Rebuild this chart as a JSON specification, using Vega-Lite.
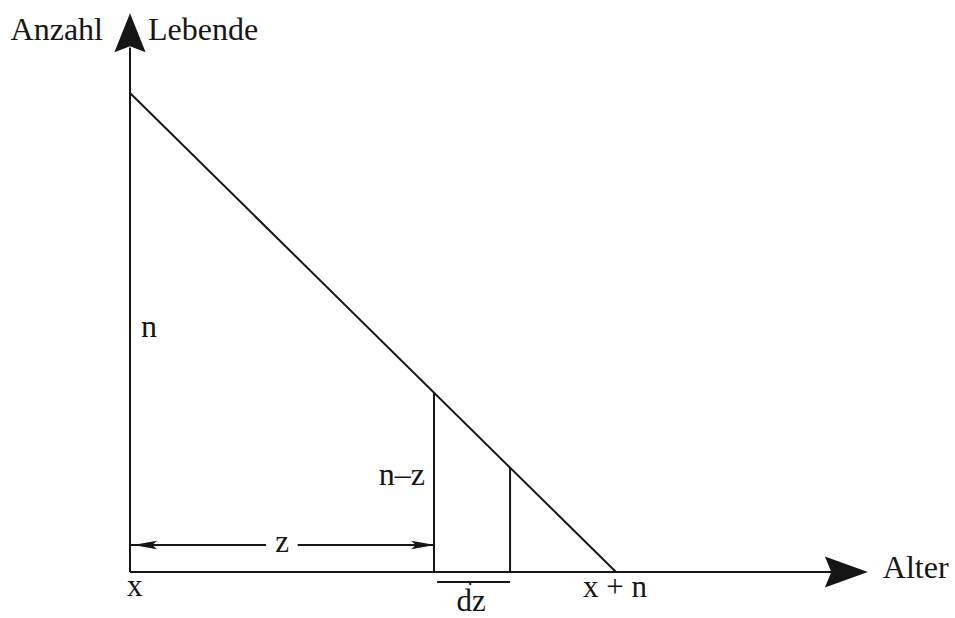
{
  "$schema": "https://vega.github.io/schema/vega-lite/v6.json",
  "width": 955,
  "height": 618,
  "autosize": {"type": "none"},
  "padding": 0,
  "background": "white",
  "config": {"view": {"stroke": null}},
  "datasets": {
    "segments": [
      {"part": "Lebende-Achse", "x": 0, "y": 0, "x2": 0, "y2": 10.95},
      {"part": "Alter-Achse", "x": 0, "y": 0, "x2": 14.5, "y2": 0},
      {"part": "Lebende", "x": 0, "y": 10, "x2": 10, "y2": 0},
      {"part": "n-z", "x": 6.255, "y": 0, "x2": 6.255, "y2": 3.745},
      {"part": "n-z-dz", "x": 7.82, "y": 0, "x2": 7.82, "y2": 2.18},
      {"part": "z links", "x": 0, "y": 0.564, "x2": 2.8, "y2": 0.564},
      {"part": "z rechts", "x": 3.45, "y": 0.564, "x2": 6.255, "y2": 0.564},
      {"part": "dz", "x": 6.32, "y": -0.21, "x2": 7.82, "y2": -0.21},
      {"part": "dz Mitte", "x": 7.0, "y": -0.21, "x2": 7.0, "y2": -0.27}
    ],
    "arrowUp": [{"x": 0, "y": 11.26}],
    "arrowRight": [{"x": 14.74, "y": 0}],
    "arrowSmallRight": [{"x": 6.03, "y": 0.564}],
    "arrowSmallLeft": [{"x": 0.31, "y": 0.564}],
    "labels": [
      {"label": "Anzahl", "x": -0.556, "y": 11.1, "align": "right"},
      {"label": "Lebende", "x": 0.37, "y": 11.1, "align": "left"},
      {"label": "Alter", "x": 15.49, "y": -0.13, "align": "left"},
      {"label": "x", "x": 0.1, "y": -0.5, "align": "center"},
      {"label": "x + n", "x": 9.98, "y": -0.52, "align": "center"},
      {"label": "n", "x": 0.226, "y": 4.9, "align": "left"},
      {"label": "n–z", "x": 6.07, "y": 1.81, "align": "right"},
      {"label": "z", "x": 3.13, "y": 0.41, "align": "center"},
      {"label": "dz", "x": 7.02, "y": -0.82, "align": "center"}
    ]
  },
  "layer": [
    {
      "data": {"name": "segments"},
      "mark": {"type": "rule", "stroke": "#161616", "strokeWidth": 2},
      "encoding": {
        "x": {"field": "x", "type": "quantitative", "scale": {"domain": [-2.675, 16.975], "nice": false, "zero": false}, "axis": null},
        "y": {"field": "y", "type": "quantitative", "scale": {"domain": [-0.96, 11.942], "nice": false, "zero": false}, "axis": null},
        "x2": {"field": "x2"},
        "y2": {"field": "y2"}
      }
    },
    {
      "data": {"name": "arrowUp"},
      "mark": {"type": "point", "filled": true, "color": "#161616", "opacity": 1, "size": 1521, "shape": "M0,-1L0.8,1L0,0.7L-0.8,1Z"},
      "encoding": {
        "x": {"field": "x", "type": "quantitative"},
        "y": {"field": "y", "type": "quantitative"}
      }
    },
    {
      "data": {"name": "arrowRight"},
      "mark": {"type": "point", "filled": true, "color": "#161616", "opacity": 1, "size": 1849, "shape": "M1,0L-1,-0.72L-0.7,0L-1,0.72Z"},
      "encoding": {
        "x": {"field": "x", "type": "quantitative"},
        "y": {"field": "y", "type": "quantitative"}
      }
    },
    {
      "data": {"name": "arrowSmallRight"},
      "mark": {"type": "point", "filled": true, "color": "#161616", "opacity": 1, "size": 576, "shape": "M1,0L-1,-0.35L-0.6,0L-1,0.35Z"},
      "encoding": {
        "x": {"field": "x", "type": "quantitative"},
        "y": {"field": "y", "type": "quantitative"}
      }
    },
    {
      "data": {"name": "arrowSmallLeft"},
      "mark": {"type": "point", "filled": true, "color": "#161616", "opacity": 1, "size": 576, "shape": "M-1,0L1,-0.35L0.6,0L1,0.35Z"},
      "encoding": {
        "x": {"field": "x", "type": "quantitative"},
        "y": {"field": "y", "type": "quantitative"}
      }
    },
    {
      "data": {"name": "labels"},
      "transform": [{"filter": "datum.align == 'left'"}],
      "mark": {"type": "text", "font": "Liberation Serif", "fontSize": 32, "color": "#161616", "align": "left", "baseline": "alphabetic"},
      "encoding": {
        "x": {"field": "x", "type": "quantitative"},
        "y": {"field": "y", "type": "quantitative"},
        "text": {"field": "label"}
      }
    },
    {
      "data": {"name": "labels"},
      "transform": [{"filter": "datum.align == 'right'"}],
      "mark": {"type": "text", "font": "Liberation Serif", "fontSize": 32, "color": "#161616", "align": "right", "baseline": "alphabetic"},
      "encoding": {
        "x": {"field": "x", "type": "quantitative"},
        "y": {"field": "y", "type": "quantitative"},
        "text": {"field": "label"}
      }
    },
    {
      "data": {"name": "labels"},
      "transform": [{"filter": "datum.align == 'center'"}],
      "mark": {"type": "text", "font": "Liberation Serif", "fontSize": 31, "color": "#161616", "align": "center", "baseline": "alphabetic"},
      "encoding": {
        "x": {"field": "x", "type": "quantitative"},
        "y": {"field": "y", "type": "quantitative"},
        "text": {"field": "label"}
      }
    }
  ]
}
